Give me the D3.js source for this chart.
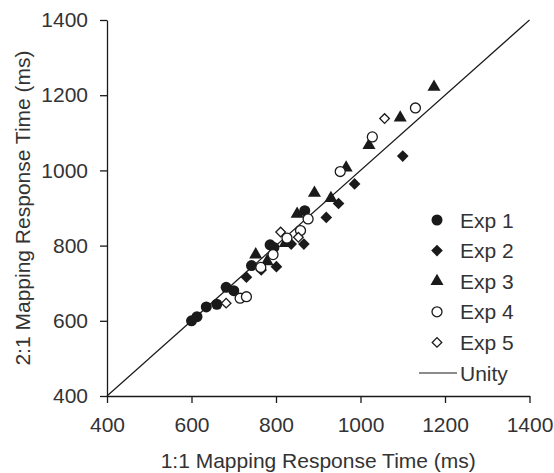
<!DOCTYPE html>
<html>
<head>
<meta charset="utf-8">
<script src="https://cdn.jsdelivr.net/npm/d3@7"></script>
<style>
  body { margin: 0; background: #fff; }
  svg text { font-family: "Liberation Sans", Arial, sans-serif; fill: #333; }
</style>
</head>
<body>
<svg width="554" height="473"></svg>
<script>
// values (ms)
const exp1X = [600, 613, 635, 660, 682, 700, 742, 786, 795, 868];
const exp1Y = [600, 611, 637, 644, 689, 680, 747, 802, 795, 893];
const exp2X = [730, 765, 801, 836, 866, 919, 948, 986, 1100];
const exp2Y = [716, 735, 744, 804, 804, 875, 912, 964, 1038];
const exp3X = [752, 779, 822, 850, 891, 930, 966, 1020, 1094, 1174];
const exp3Y = [776, 758, 806, 884, 940, 926, 1007, 1067, 1140, 1222];
const exp4X = [715, 730, 764, 793, 826, 858, 876, 952, 1028, 1130];
const exp4Y = [660, 664, 742, 776, 820, 840, 871, 997, 1089, 1166];
const exp5X = [682, 811, 853, 1057];
const exp5Y = [647, 836, 822, 1138];
const tickValues = [400, 600, 800, 1000, 1200, 1400];
const legendLabels = ['Exp 1', 'Exp 2', 'Exp 3', 'Exp 4', 'Exp 5', 'Unity'];
const xLabel = '1:1 Mapping Response Time (ms)';
const yLabel = '2:1 Mapping Response Time (ms)';

const ink = '#1a1a1a';
const margin = { left: 107, right: 24.5, top: 20, bottom: 77 };
const svg = d3.select('svg');
const width = +svg.attr('width');
const height = +svg.attr('height');
const innerWidth = width - margin.left - margin.right;
const innerHeight = height - margin.top - margin.bottom;
const g = svg.append('g')
  .attr('transform', `translate(${margin.left},${margin.top})`);

const xScale = d3.scaleLinear().domain([400, 1400]).range([0, innerWidth]);
const yScale = d3.scaleLinear().domain([400, 1400]).range([innerHeight, 0]);

const xAxis = d3.axisBottom(xScale)
  .tickValues(tickValues)
  .tickFormat(d3.format('d'))
  .tickSize(7)
  .tickSizeOuter(0)
  .tickPadding(14);
const yAxis = d3.axisLeft(yScale)
  .tickValues(tickValues)
  .tickFormat(d3.format('d'))
  .tickSize(7)
  .tickSizeOuter(0)
  .tickPadding(12);

const xAxisG = g.append('g')
  .attr('transform', `translate(0, ${innerHeight})`)
  .call(xAxis);
const yAxisG = g.append('g').call(yAxis);

[xAxisG, yAxisG].forEach(a => {
  a.selectAll('path, line').attr('stroke', ink).attr('stroke-width', 1.3);
  a.selectAll('text').attr('font-size', 21).attr('fill', '#333');
});

svg.append('text')
  .attr('x', margin.left + innerWidth / 2)
  .attr('y', 468)
  .attr('text-anchor', 'middle')
  .attr('font-size', 21)
  .text(xLabel);

svg.append('text')
  .attr('transform', `translate(30, ${margin.top + innerHeight / 2}) rotate(-90)`)
  .attr('text-anchor', 'middle')
  .attr('font-size', 21)
  .text(yLabel);

// unity line
const line = d3.line().x(d => xScale(d)).y(d => yScale(d));
g.append('path')
  .attr('d', line([400, 1400]))
  .attr('fill', 'none')
  .attr('stroke', ink)
  .attr('stroke-width', 1.2);

const series = [
  { xs: exp1X, ys: exp1Y, type: d3.symbolCircle, size: 95, filled: true, rot: 0 },
  { xs: exp2X, ys: exp2Y, type: d3.symbolSquare, size: 68, filled: true, rot: 45 },
  { xs: exp3X, ys: exp3Y, type: d3.symbolTriangle, size: 74, filled: true, rot: 0 },
  { xs: exp4X, ys: exp4Y, type: d3.symbolCircle, size: 78, filled: false, rot: 0 },
  { xs: exp5X, ys: exp5Y, type: d3.symbolSquare, size: 46, filled: false, rot: 45 }
];

series.forEach(s => {
  const sym = d3.symbol().type(s.type).size(s.size);
  g.append('g').selectAll('path')
    .data(s.xs.map((x, i) => [x, s.ys[i]]))
    .enter().append('path')
    .attr('d', sym)
    .attr('transform', d => `translate(${xScale(d[0])},${yScale(d[1])}) rotate(${s.rot})`)
    .attr('fill', s.filled ? ink : '#fff')
    .attr('stroke', ink)
    .attr('stroke-width', s.filled ? 0 : 1.3);
});

// legend
const legend = svg.append('g').attr('transform', 'translate(437, 220)');
const rowH = 30.6;
legendLabels.forEach((label, i) => {
  const row = legend.append('g').attr('transform', `translate(0, ${i * rowH})`);
  if (i < series.length) {
    const s = series[i];
    row.append('path')
      .attr('d', d3.symbol().type(s.type).size(s.size))
      .attr('transform', `rotate(${s.rot})`)
      .attr('fill', s.filled ? ink : '#fff')
      .attr('stroke', ink)
      .attr('stroke-width', s.filled ? 0 : 1.3);
  } else {
    row.append('line')
      .attr('x1', -18).attr('x2', 20)
      .attr('stroke', ink).attr('stroke-width', 1.2);
  }
  row.append('text')
    .attr('x', 23)
    .attr('dy', '0.36em')
    .attr('font-size', 21)
    .text(label);
});
</script>
</body>
</html>
